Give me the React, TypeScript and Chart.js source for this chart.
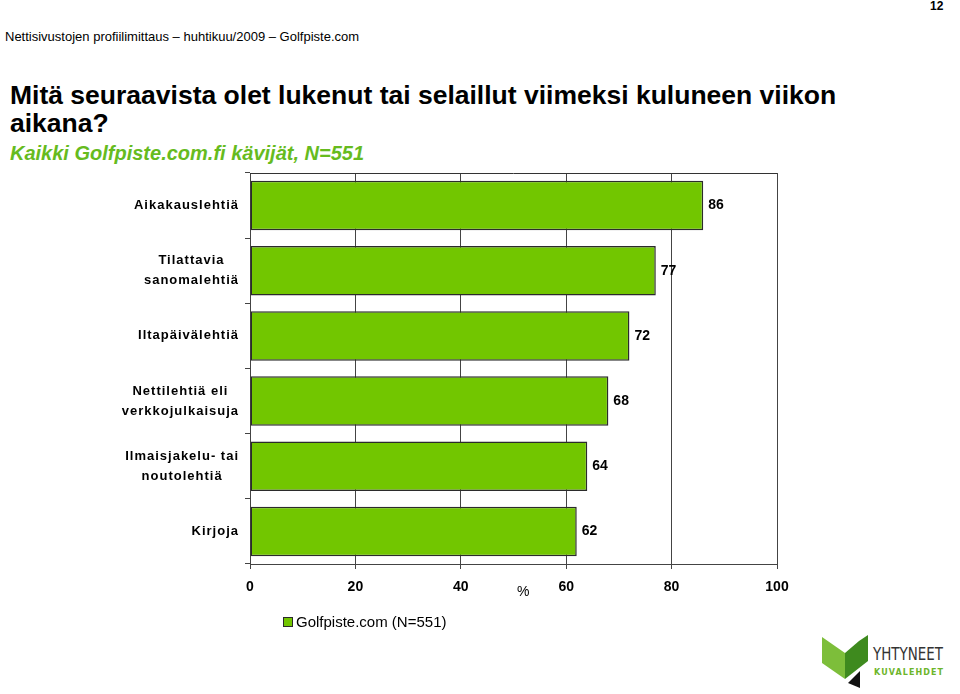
import React, { useEffect, useRef } from "react";
import { Chart, registerables } from "chart.js";

Chart.register(...registerables);

const categories: string[][] = [
  ["Aikakauslehtiä"],
  ["Tilattavia", "sanomalehtiä"],
  ["Iltapäivälehtiä"],
  ["Nettilehtiä eli", "verkkojulkaisuja"],
  ["Ilmaisjakelu- tai", "noutolehtiä"],
  ["Kirjoja"],
];
const values: number[] = [86, 77, 72, 68, 64, 62];
const xTicks: number[] = [0, 20, 40, 60, 80, 100];
const seriesName = "Golfpiste.com (N=551)";

const FONT = '"Liberation Sans", Arial, sans-serif';
const GREEN = "#72C600";

const overlayPlugin = {
  id: "overlay",
  afterDatasetsDraw(chart: any) {
    const ctx = chart.ctx;
    const area = chart.chartArea;
    ctx.save();
    // top border line
    ctx.strokeStyle = "#333";
    ctx.lineWidth = 1;
    ctx.beginPath();
    ctx.moveTo(area.left, Math.round(area.top) + 0.5);
    ctx.lineTo(area.right, Math.round(area.top) + 0.5);
    ctx.stroke();
    // value labels
    const meta = chart.getDatasetMeta(0);
    ctx.fillStyle = "#000";
    ctx.font = `bold 14px ${FONT}`;
    ctx.textBaseline = "middle";
    ctx.textAlign = "left";
    meta.data.forEach((el: any, i: number) => {
      ctx.fillText(String(values[i]), el.x + 5, el.y);
    });
    // category labels (centered block, right aligned to axis)
    const yScale = chart.scales.y;
    ctx.font = `bold 13px ${FONT}`;
    (ctx as any).letterSpacing = "1px";
    ctx.textAlign = "center";
    const lh = 20;
    categories.forEach((lines, i) => {
      const cy = yScale.getPixelForValue(i);
      let maxW = 0;
      lines.forEach((l) => {
        maxW = Math.max(maxW, ctx.measureText(l).width);
      });
      const cx = area.left - 11 - maxW / 2;
      const startY = cy - ((lines.length - 1) * lh) / 2;
      lines.forEach((l, j) => {
        ctx.fillText(l, cx, startY + j * lh);
      });
    });
    ctx.restore();
  },
};

function ChartBox() {
  const ref = useRef<HTMLCanvasElement>(null);
  useEffect(() => {
    if (!ref.current) return;
    const chart = new Chart(ref.current, {
      type: "bar",
      data: {
        labels: categories.map((c) => c.join(" ")),
        datasets: [
          {
            label: seriesName,
            data: values,
            backgroundColor: GREEN,
            borderColor: "#2b2b2b",
            borderWidth: 1.5,
            borderSkipped: false,
            categoryPercentage: 1,
            barPercentage: 0.76,
          },
        ],
      },
      options: {
        indexAxis: "y",
        responsive: false,
        animation: false,
        devicePixelRatio: 1,
        layout: { padding: { top: 13, right: 23, left: 0, bottom: 0 } },
        plugins: {
          legend: { display: false },
          tooltip: { enabled: false },
        },
        scales: {
          x: {
            type: "linear",
            min: 0,
            max: 100,
            afterBuildTicks: (s: any) => {
              s.ticks = xTicks.map((v) => ({ value: v }));
            },
            afterFit: (s: any) => {
              s.height = 46;
            },
            grid: {
              color: "#444",
              lineWidth: 1,
              tickLength: 5,
              drawTicks: true,
            },
            border: { display: true, color: "#444", width: 1 },
            ticks: {
              color: "#000",
              font: { family: FONT, size: 14, weight: "bold" },
              padding: 10,
              maxRotation: 0,
            },
          },
          y: {
            type: "category",
            afterFit: (s: any) => {
              s.width = 250;
            },
            grid: {
              offset: true,
              drawOnChartArea: false,
              tickLength: 5,
              color: "#444",
            },
            border: { display: true, color: "#444", width: 1 },
            ticks: { display: false },
          },
        },
      },
      plugins: [overlayPlugin],
    } as any);
    return () => chart.destroy();
  }, []);
  return (
    <canvas
      ref={ref}
      width={800}
      height={450}
      style={{ position: "absolute", left: 0, top: 160, width: 800, height: 450 }}
    />
  );
}

export default function App() {
  const abs = (s: React.CSSProperties): React.CSSProperties => ({
    position: "absolute",
    whiteSpace: "nowrap",
    fontFamily: FONT,
    lineHeight: 1,
    ...s,
  });
  return (
    <div
      style={{
        position: "absolute",
        left: 0,
        top: 0,
        width: 960,
        height: 694,
        background: "#fff",
        overflow: "hidden",
      }}
    >
      <div style={abs({ left: 930, top: 0, fontSize: 12, fontWeight: "bold", color: "#000" })}>12</div>
      <div style={abs({ left: 5, top: 30, fontSize: 13, color: "#000" })}>
        Nettisivustojen profiilimittaus – huhtikuu/2009 – Golfpiste.com
      </div>
      <div style={abs({ left: 10, top: 81, fontSize: 26.5, fontWeight: "bold", color: "#000", lineHeight: "28px" })}>
        Mitä seuraavista olet lukenut tai selaillut viimeksi kuluneen viikon
        <br />
        aikana?
      </div>
      <div
        style={abs({
          left: 10,
          top: 143,
          fontSize: 20,
          fontWeight: "bold",
          fontStyle: "italic",
          color: "#66BB1E",
        })}
      >
        Kaikki Golfpiste.com.fi kävijät, N=551
      </div>
      <ChartBox />
      <div style={abs({ left: 517, top: 584, fontSize: 14, color: "#000" })}>%</div>
      <div
        style={abs({
          left: 283,
          top: 617,
          width: 8,
          height: 8,
          background: GREEN,
          border: "1px solid #2b2b2b",
        })}
      />
      <div style={abs({ left: 296, top: 614, fontSize: 15, color: "#000" })}>{seriesName}</div>
      <svg
        style={{ position: "absolute", left: 815, top: 625 }}
        width={145}
        height={69}
        viewBox="0 0 145 69"
      >
        <polygon points="7,12 30,28 30,54 7,38" fill="#7DBE3A" />
        <polygon points="30,28 44,16 53,10 53,36 30,54" fill="#3E8A1E" />
        <polygon points="33,58 45,46 45,63" fill="#111" />
        <text
          x={58}
          y={35}
          fontFamily='"DejaVu Sans Condensed", "DejaVu Sans", sans-serif'
          fontSize={17}
          textLength={70}
          lengthAdjust="spacingAndGlyphs"
          fill="#333"
        >
          YHTYNEET
        </text>
        <text
          x={59}
          y={50}
          fontFamily='"DejaVu Sans", sans-serif'
          fontSize={8}
          fontWeight="bold"
          textLength={69}
          lengthAdjust="spacing"
          fill="#6DB52B"
        >
          KUVALEHDET
        </text>
      </svg>
    </div>
  );
}
